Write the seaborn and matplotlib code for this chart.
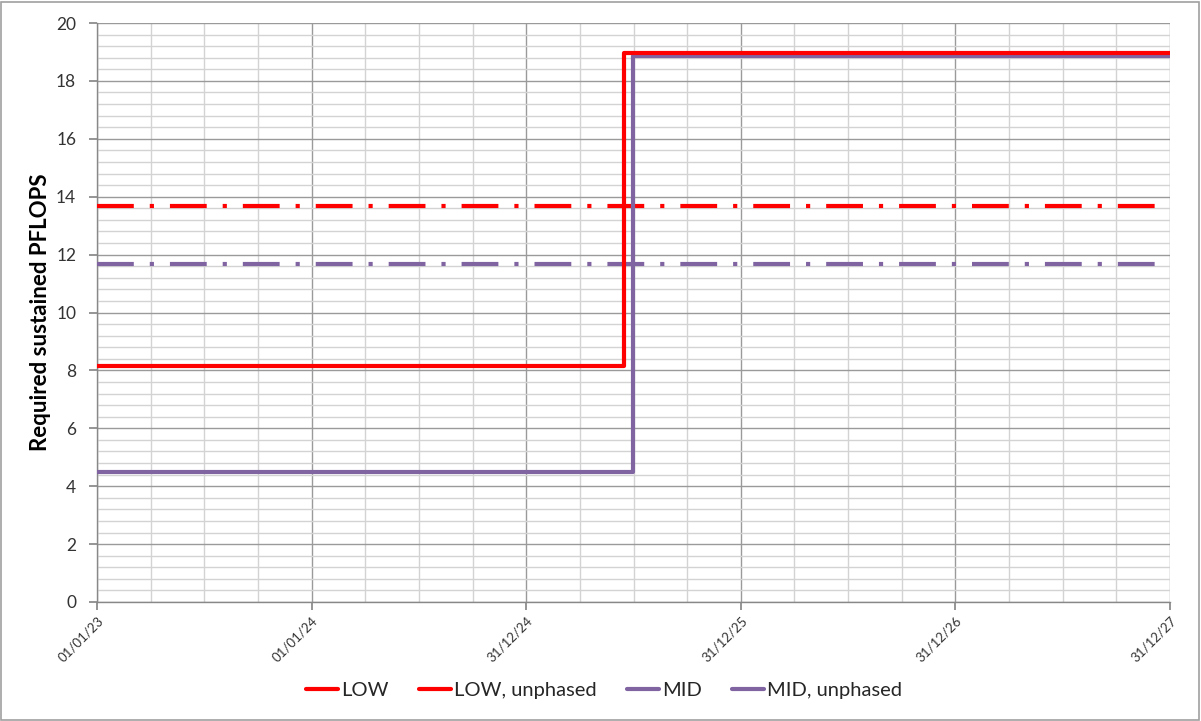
import numpy as np
import pandas as pd
import matplotlib
matplotlib.use("Agg")
import matplotlib.pyplot as plt
from matplotlib.lines import Line2D
from matplotlib.patches import Rectangle
import seaborn as sns

# ---- data ----
start_date = "2023-01-01"
end_date = "2027-12-31"
low_step_date = "2025-06-16"
mid_step_date = "2025-07-01"
low_values = [8.15, 18.95]
mid_values = [4.5, 18.85]
low_unphased = 13.68
mid_unphased = 11.68
series_names = ["LOW", "LOW, unphased", "MID", "MID, unphased"]
tick_dates = ["2023-01-01", "2024-01-01", "2024-12-31", "2025-12-31", "2026-12-31", "2027-12-31"]
tick_labels = ["01/01/23", "01/01/24", "31/12/24", "31/12/25", "31/12/26", "31/12/27"]

RED = "#FF0000"
PURPLE = "#8064A2"

sns.set_theme(style="white")
plt.rcParams["font.family"] = ["Lato", "DejaVu Sans"]

fig = plt.figure(figsize=(12.01, 7.21), dpi=100)
ax = fig.add_axes([97/1201, 1-602/721, (1170-97)/1201, (602-23)/721])

def mk(dates, vals, name):
    return pd.DataFrame({"date": pd.to_datetime(dates), "value": vals, "series": name})

low_df = mk([start_date, low_step_date, end_date], [low_values[0], low_values[1], low_values[1]], "LOW")
mid_df = mk([start_date, mid_step_date, end_date], [mid_values[0], mid_values[1], mid_values[1]], "MID")
lowu_df = mk([start_date, end_date], [low_unphased, low_unphased], "LOW, unphased")
midu_df = mk([start_date, end_date], [mid_unphased, mid_unphased], "MID, unphased")

lw = 3.0
dash_pattern = (26.5, 11.5, 3.0, 11.5)  # in points

sns.lineplot(data=lowu_df, x="date", y="value", ax=ax, color=RED, linewidth=lw,
             legend=False, zorder=3)
sns.lineplot(data=midu_df, x="date", y="value", ax=ax, color=PURPLE, linewidth=lw,
             legend=False, zorder=3)
for ln in ax.lines:
    ln.set_dashes([d / lw for d in dash_pattern])
    ln.set_dash_capstyle("butt")
sns.lineplot(data=mid_df, x="date", y="value", ax=ax, color=PURPLE, linewidth=lw,
             drawstyle="steps-post", legend=False, zorder=4)
sns.lineplot(data=low_df, x="date", y="value", ax=ax, color=RED, linewidth=lw,
             drawstyle="steps-post", legend=False, zorder=5)

x0 = pd.Timestamp(start_date)
x1 = pd.Timestamp(end_date)
ax.set_xlim(x0, x1)
ax.set_ylim(0, 20)

ax.set_xticks(pd.to_datetime(tick_dates))
ax.set_xticklabels(tick_labels, rotation=45, ha="right", rotation_mode="anchor",
                   fontsize=9.5, color="#333333")
minor_x = [x0 + pd.Timedelta(days=365/4*i) for i in range(0, 21)]
ax.set_xticks(minor_x, minor=True)
ax.set_yticks(np.arange(0, 21, 2))
ax.set_yticks(np.arange(0, 20.01, 0.4), minor=True)
ax.tick_params(axis="y", which="major", labelsize=12.5, colors="#333333", length=6,
               direction="out", left=True, color="#888888", pad=9)
ax.tick_params(axis="x", which="major", length=6, direction="out", bottom=True, color="#888888", pad=3)
ax.tick_params(axis="both", which="minor", length=0)

ax.grid(True, which="major", color="#9a9a9a", linewidth=1.0, zorder=0)
ax.grid(True, which="minor", color="#d3d3d3", linewidth=1.0, zorder=0)
ax.set_axisbelow(True)

for side in ["top", "right"]:
    ax.spines[side].set_visible(False)
for side in ["left", "bottom"]:
    ax.spines[side].set_color("#888888")
    ax.spines[side].set_linewidth(1.0)

ax.set_xlabel("")
ax.set_ylabel("Required sustained PFLOPS", fontsize=16, fontweight="bold", color="black")
ax.yaxis.set_label_coords((51-97)/1073, 0.5)

handles = [Line2D([0], [0], color=c, linewidth=lw) for c in [RED, RED, PURPLE, PURPLE]]
fig.legend(handles, series_names, loc="center", bbox_to_anchor=(604/1201, 1-690/721), ncol=4,
           frameon=False, fontsize=14.5, handlelength=1.6, handletextpad=0.15, columnspacing=1.5)

fig.patches.append(Rectangle((1/1201, 1/721), 1-3/1201, 1-3/721, transform=fig.transFigure,
                             fill=False, edgecolor="#a0a0a0", linewidth=1.2))

fig.savefig("out.png", dpi=100, facecolor="white")
